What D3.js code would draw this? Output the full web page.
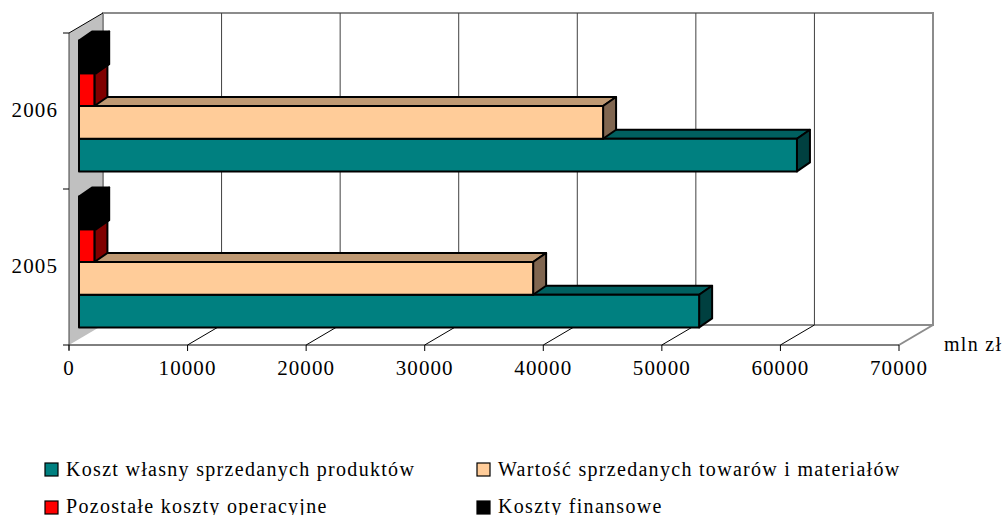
<!DOCTYPE html>
<html>
<head>
<meta charset="utf-8">
<script src="https://d3js.org/d3.v7.min.js"></script>
<style>
  body { margin: 0; background: #fff; }
  text { font-family: "Liberation Serif", serif; fill: #000; }
</style>
</head>
<body>
<div id="chart"></div>
<script>
var years = ["2006", "2005"];
var seriesNames = ["Koszt własny sprzedanych produktów", "Wartość sprzedanych towarów i materiałów", "Pozostałe koszty operacyjne", "Koszty finansowe"];
var koszt = [60550, 52300];
var wartosc = [44200, 38300];
var pozostale = [1300, 1300];
var finansowe = [1450, 1450];
var xTicks = [0, 10000, 20000, 30000, 40000, 50000, 60000, 70000];

var allValues = [koszt, wartosc, pozostale, finansowe];
var front = ["#008080", "#FFCC99", "#FF0000", "#000000"];
var topFace = ["#006060", "#BF9973", "#C00000", "#000000"];
var sideFace = ["#004040", "#806650", "#800000", "#000000"];

var svg = d3.select("#chart").append("svg")
  .attr("width", 1007)
  .attr("height", 515)
  .style("display", "block");

var x = d3.scaleLinear().domain([0, 70000]).range([69, 899]);
var y = d3.scaleBand().domain(years).range([33, 345]);
var inner = d3.scaleBand().domain(d3.range(4).reverse()).range([0, y.bandwidth()]).paddingOuter(0.385);

// depth of the box and of the bars
var dx = 34, dy = -20;
var barDx = 13, barDy = -9;
var startDx = 10, startDy = -5;

var x0 = x(0), xEnd = x(70000), yTop = 33, yBot = 345;

// walls
svg.append("polygon")
  .attr("points", [[x0, yTop], [x0 + dx, yTop + dy], [x0 + dx, yBot + dy], [x0, yBot]].join(" "))
  .attr("fill", "#C0C0C0");

svg.append("polyline")
  .attr("points", [[x0 + dx, yBot + dy], [x0 + dx, yTop + dy], [xEnd + dx, yTop + dy], [xEnd + dx, yBot + dy], [x0 + dx, yBot + dy]].join(" "))
  .attr("fill", "none")
  .attr("stroke", "#8C8C8C")
  .attr("stroke-width", 2);

svg.append("line")
  .attr("x1", xEnd).attr("y1", yBot)
  .attr("x2", xEnd + dx).attr("y2", yBot + dy)
  .attr("stroke", "#8C8C8C")
  .attr("stroke-width", 2);

// gridlines on back wall and floor
var grid = xTicks.slice(1, -1);
svg.selectAll(".grid").data(grid).enter().append("line")
  .attr("class", "grid")
  .attr("x1", function (d) { return x(d) + dx; })
  .attr("x2", function (d) { return x(d) + dx; })
  .attr("y1", yTop + dy)
  .attr("y2", yBot + dy)
  .attr("stroke", "#404040");

svg.selectAll(".floor").data(grid).enter().append("line")
  .attr("class", "floor")
  .attr("x1", function (d) { return x(d); })
  .attr("x2", function (d) { return x(d) + dx; })
  .attr("y1", yBot)
  .attr("y2", yBot + dy)
  .attr("stroke", "#000");

// axes on the front plane
var axis = svg.append("g").attr("stroke", "#000").attr("stroke-width", 1);
axis.append("line").attr("x1", x0).attr("x2", xEnd).attr("y1", yBot).attr("y2", yBot);
axis.append("line").attr("x1", x0).attr("x2", x0).attr("y1", yTop).attr("y2", yBot + 5).attr("stroke", "#404040");
axis.append("line").attr("x1", x0).attr("x2", x0 + dx).attr("y1", yTop).attr("y2", yTop + dy);

axis.selectAll(".xtick").data(xTicks).enter().append("line")
  .attr("class", "xtick")
  .attr("x1", function (d) { return x(d); })
  .attr("x2", function (d) { return x(d); })
  .attr("y1", yBot)
  .attr("y2", yBot + 6);

axis.selectAll(".ytick").data([33, 189, 345]).enter().append("line")
  .attr("class", "ytick")
  .attr("x1", x0 - 6)
  .attr("x2", x0)
  .attr("y1", function (d) { return d; })
  .attr("y2", function (d) { return d; });

// bars, lower groups first so the upper ones sit on top
years.slice().reverse().forEach(function (year) {
  var i = years.indexOf(year);
  d3.range(4).forEach(function (s) {
    var val = allValues[s][i];
    var left = x(0) + startDx;
    var right = x(val) + startDx;
    var bottom = y(year) + inner(s) + inner.bandwidth() + startDy;
    var top = bottom - inner.bandwidth();
    var g = svg.append("g").attr("stroke", "#000").attr("stroke-width", 2).attr("stroke-linejoin", "round");
    g.append("polygon")
      .attr("points", [[left, top], [left + barDx, top + barDy], [right + barDx, top + barDy], [right, top]].join(" "))
      .attr("fill", topFace[s]);
    g.append("polygon")
      .attr("points", [[right, top], [right + barDx, top + barDy], [right + barDx, bottom + barDy], [right, bottom]].join(" "))
      .attr("fill", sideFace[s]);
    g.append("rect")
      .attr("x", left)
      .attr("y", top)
      .attr("width", right - left)
      .attr("height", bottom - top)
      .attr("fill", front[s]);
  });
});

// tick labels
svg.selectAll(".xlabel").data(xTicks).enter().append("text")
  .attr("class", "xlabel")
  .attr("x", function (d) { return x(d); })
  .attr("y", 375)
  .attr("text-anchor", "middle")
  .style("font-size", "21px")
  .style("letter-spacing", "1.1px")
  .text(function (d) { return d; });

svg.selectAll(".ylabel").data(years).enter().append("text")
  .attr("class", "ylabel")
  .attr("x", 58)
  .attr("y", function (d) { return y(d) + y.bandwidth() / 2 + 6; })
  .attr("text-anchor", "end")
  .style("font-size", "21px")
  .style("letter-spacing", "1.1px")
  .text(function (d) { return d; });

svg.append("text")
  .attr("x", 944)
  .attr("y", 351)
  .style("font-size", "20px")
  .style("letter-spacing", "1.3px")
  .text("mln zł");

// legend
var legendOrder = [0, 2, 1, 3];
var legend = svg.selectAll(".legend").data(legendOrder).enter().append("g").attr("class", "legend");
legend.append("rect")
  .attr("x", function (d, i) { return i < 2 ? 45 : 477; })
  .attr("y", function (d, i) { return i % 2 === 0 ? 463 : 501; })
  .attr("width", 13)
  .attr("height", 13)
  .attr("fill", function (d) { return front[d]; })
  .attr("stroke", "#000")
  .attr("stroke-width", 1.2);
legend.append("text")
  .attr("x", function (d, i) { return i < 2 ? 66 : 498; })
  .attr("y", function (d, i) { return i % 2 === 0 ? 476 : 513; })
  .style("font-size", "20px")
  .style("letter-spacing", "1.3px")
  .text(function (d) { return seriesNames[d]; });
</script>
</body>
</html>
